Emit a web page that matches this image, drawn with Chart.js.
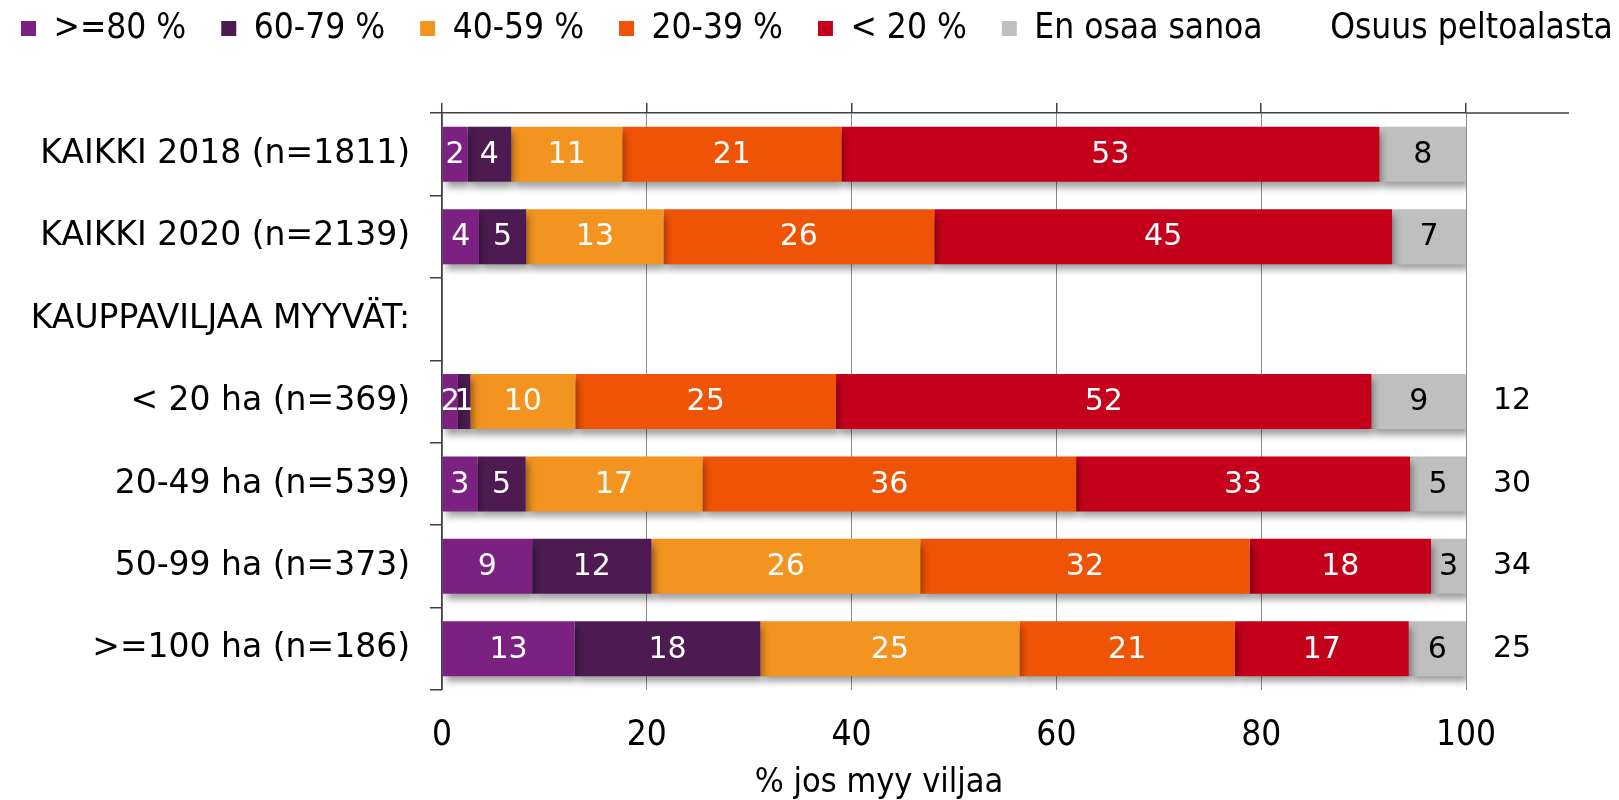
<!DOCTYPE html>
<html lang="fi">
<head>
<meta charset="utf-8">
<title>Osuus peltoalasta</title>
<script src="https://cdn.jsdelivr.net/npm/chart.js@4.4.1/dist/chart.umd.min.js"></script>
<style>
    html, body { margin: 0; padding: 0; background: #fff; }
    body { width: 1619px; height: 800px; overflow: hidden; position: relative; }
    #wrap { position: absolute; left: -14px; top: -24px; width: 1786px; height: 824px; }
</style>
</head>
<body>
<div id="wrap"><canvas id="myChart"></canvas></div>
<script>
// data (% of respondents)
const categories = ['KAIKKI 2018 (n=1811)', 'KAIKKI 2020 (n=2139)', 'KAUPPAVILJAA MYYVÄT:', '< 20 ha (n=369)', '20-49 ha (n=539)', '50-99 ha (n=373)', '>=100 ha (n=186)'];
const seriesNames = ['>=80 %', '60-79 %', '40-59 %', '20-39 %', '< 20 %', 'En osaa sanoa'];
const share80 = [2.48, 3.61, null, 1.55, 3.45, 8.8, 12.95];
const share60 = [4.29, 4.62, null, 1.22, 4.72, 11.66, 18.14];
const share40 = [10.83, 13.4, null, 10.25, 17.26, 26.24, 25.3];
const share20 = [21.4, 26.44, null, 25.46, 36.49, 32.17, 21.04];
const shareLow = [52.55, 44.71, null, 52.29, 32.62, 17.72, 16.98];
const dontKnow = [8.45, 7.22, null, 9.23, 5.46, 3.41, 5.59];
const fieldShare = [null, null, null, 12, 30, 34, 25];
const fieldShareTitle = 'Osuus peltoalasta';
const xTicks = [0, 20, 40, 60, 80, 100];
const xTitle = '% jos myy viljaa';

const colors = ['#7b2182', '#4d1b52', '#f39320', '#ef5306', '#c4001a', '#bfbfbf'];
const labelColors = ['#fff', '#fff', '#fff', '#fff', '#fff', '#000'];

const wideFont = 'DejaVu Sans, Verdana, sans-serif';
const narrowFont = '"DejaVu Sans Condensed", "Liberation Sans Narrow", sans-serif';

let chart = null;

// drop shadow under the bars + value labels in the segments
const barDecor = {
    id: 'barDecor',
    beforeDatasetsDraw(c) {
        const ctx = c.ctx;
        ctx.save();
        ctx.shadowColor = 'rgba(0,0,0,0.38)';
        ctx.shadowBlur = 7;
        ctx.shadowOffsetX = 3;
        ctx.shadowOffsetY = 6;
    },
    afterDatasetsDraw(c) {
        const ctx = c.ctx;
        ctx.restore();
        ctx.save();
        ctx.font = '30px ' + wideFont;
        ctx.textAlign = 'center';
        ctx.textBaseline = 'middle';
        c.data.datasets.forEach((ds, i) => {
            const meta = c.getDatasetMeta(i);
            meta.data.forEach((bar, j) => {
                const v = ds.data[j];
                if (v === null || v === undefined) return;
                const p = bar.getCenterPoint();
                ctx.fillStyle = labelColors[i];
                ctx.fillText(String(Math.round(v)), p.x, p.y + 1);
            });
        });
        ctx.restore();
    },
    afterDraw(c) {
        // top axis line continues over the right-hand column
        const ctx = c.ctx;
        const a = c.chartArea;
        ctx.save();
        ctx.strokeStyle = '#404040';
        ctx.lineWidth = 1.5;
        ctx.beginPath();
        ctx.moveTo(a.right, a.top);
        ctx.lineTo(a.right + 103, a.top);
        ctx.stroke();
        ctx.restore();
    }
};

function drawChart() {
    try {
        Chart.defaults.color = '#000';
        const ctx = document.getElementById('myChart').getContext('2d');
        const series = [share80, share60, share40, share20, shareLow, dontKnow];
        if (chart) chart.destroy();
        chart = new Chart(ctx, {
            type: 'bar',
            data: {
                labels: categories,
                datasets: series.map((d, i) => ({
                    label: seriesNames[i],
                    data: d,
                    backgroundColor: colors[i],
                    borderWidth: 0,
                    barPercentage: 0.667,
                    categoryPercentage: 1
                }))
            },
            options: {
                indexAxis: 'y',
                responsive: true,
                maintainAspectRatio: false,
                animation: false,
                layout: { padding: 0 },
                plugins: {
                    tooltip: { enabled: false },
                    title: {
                        display: true,
                        text: xTitle,
                        position: 'bottom',
                        color: '#000',
                        padding: 0,
                        font: { family: narrowFont, size: 34, lineHeight: 1, weight: 'normal' }
                    },
                    legend: {
                        position: 'top',
                        align: 'start',
                        onClick: null,
                        labels: {
                            boxWidth: 15,
                            boxHeight: 15,
                            padding: 35,
                            color: '#000',
                            font: { family: narrowFont, size: 35, lineHeight: 1 },
                            generateLabels(c) {
                                const items = Chart.defaults.plugins.legend.labels.generateLabels(c);
                                items.push({
                                    text: fieldShareTitle,
                                    fillStyle: 'rgba(0,0,0,0)',
                                    strokeStyle: 'rgba(0,0,0,0)',
                                    lineWidth: 0,
                                    hidden: false,
                                    datasetIndex: -1
                                });
                                return items;
                            }
                        }
                    }
                },
                scales: {
                    x: {
                        stacked: true,
                        position: 'bottom',
                        min: xTicks[0],
                        max: xTicks[xTicks.length - 1],
                        ticks: {
                            stepSize: xTicks[1] - xTicks[0],
                            padding: 28,
                            color: '#000',
                            font: { family: narrowFont, size: 35, lineHeight: 1 }
                        },
                        grid: { color: '#8c8c8c', lineWidth: 1, drawTicks: false },
                        border: { display: false },
                        afterFit(s) { s.height = 76; }
                    },
                    x2: {
                        type: 'linear',
                        axis: 'x',
                        position: 'top',
                        min: xTicks[0],
                        max: xTicks[xTicks.length - 1],
                        ticks: { stepSize: xTicks[1] - xTicks[0], display: false },
                        grid: { drawOnChartArea: false, drawTicks: true, tickLength: 10, color: '#404040', lineWidth: 1.5 },
                        border: { display: true, color: '#404040', width: 1.5 },
                        afterFit(s) {
                            const lh = s.chart.legend ? s.chart.legend.height : 80;
                            s.height = 137 - lh;
                        }
                    },
                    y: {
                        stacked: true,
                        offset: true,
                        ticks: {
                            padding: 20,
                            color: '#000',
                            font: { family: wideFont, size: 33, lineHeight: 1 }
                        },
                        grid: { offset: true, drawOnChartArea: false, drawTicks: true, tickLength: 12, color: '#404040', lineWidth: 1.5 },
                        border: { display: true, color: '#404040', width: 1.5 },
                        afterFit(s) { s.width = 456; }
                    },
                    y2: {
                        type: 'category',
                        axis: 'y',
                        position: 'right',
                        offset: true,
                        labels: fieldShare.map(v => (v === null ? '' : String(v))),
                        ticks: {
                            padding: 27,
                            color: '#000',
                            font: { family: wideFont, size: 30, lineHeight: 1 }
                        },
                        grid: { display: false, drawTicks: false },
                        border: { display: false },
                        afterFit(s) { s.width = 306; }
                    }
                }
            },
            plugins: [barDecor]
        });
        console.log('Chart drawn');
    } catch (error) {
        console.error('Error in drawChart:', error);
    }
}

drawChart();
</script>
</body>
</html>
